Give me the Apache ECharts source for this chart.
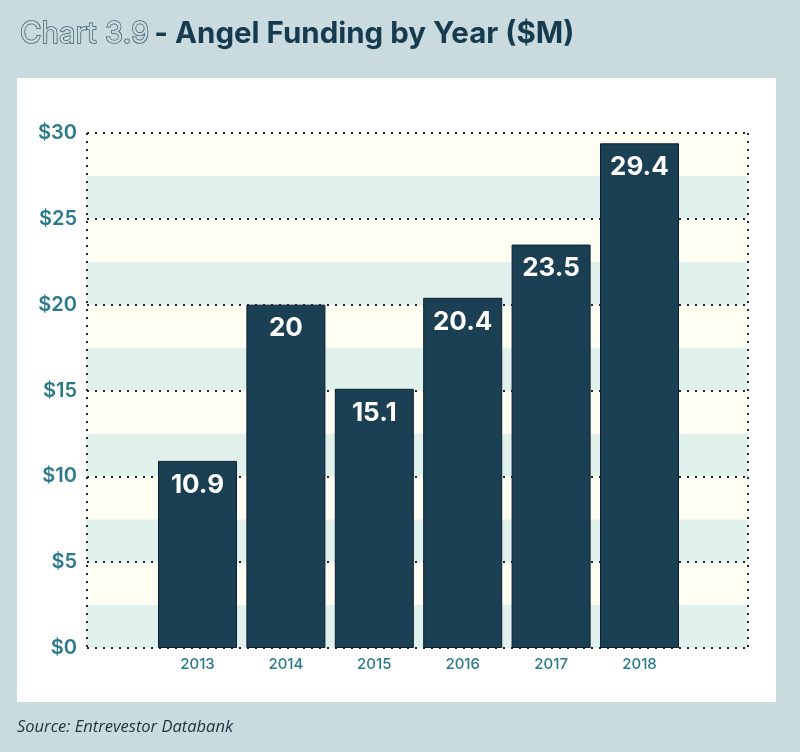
<!DOCTYPE html>
<html><head><meta charset="utf-8">
<script src="https://cdn.jsdelivr.net/npm/echarts@6/dist/echarts.min.js"></script>
<style>html,body{margin:0;padding:0;background:#c9dbdf;}#c{width:800px;height:752px;}</style>
</head><body><div id="c"></div>
<script>
var years = ['2013','2014','2015','2016','2017','2018'];
var funding = [10.9, 20, 15.1, 20.4, 23.5, 29.4];
var yTicks = [0, 5, 10, 15, 20, 25, 30];

var chart = echarts.init(document.getElementById('c'));
var teal = '#2b7a8c';
var dots = {color:'#1a2838', width:2, type:[2,6], cap:'butt'};
chart.setOption({
  backgroundColor:'#c9dbdf',
  animation:false,
  graphic:[
    {type:'rect', shape:{x:17,y:78,width:759,height:624}, style:{fill:'#ffffff'}, z:-10},
    {type:'text', left:17, top:729-10, style:{text:'Source: Entrevestor Databank', font:'italic 16.5px "Open Sans"', fill:'#1f3040'}}
  ],
  title:{
    left:15, top:14,
    text:'{a|Chart 3.9} {b|- Angel Funding by Year ($M)}',
    textStyle:{
      rich:{
        a:{fontFamily:'Inter', fontSize:29.5, fontWeight:'normal', color:'#c9dbdf', textBorderColor:'#3e5c6c', textBorderWidth:1.5},
        b:{fontFamily:'Inter', fontSize:29.5, fontWeight:'bold', color:'#163a4e', letterSpacing:-0.3}
      }
    }
  },
  grid:[
    {left:87, right:52, top:133, bottom:104},
    {left:153.3, right:116.3, top:133, bottom:104}
  ],
  xAxis:[
    {type:'value', gridIndex:0, min:0, max:1, interval:1, axisLine:{show:false}, axisTick:{show:false}, axisLabel:{show:false}, splitLine:{show:true, lineStyle:dots}},
    {type:'category', gridIndex:1, data:years, axisLine:{show:false}, axisTick:{show:false},
     axisLabel:{color:teal, fontFamily:'Inter', fontSize:15, fontWeight:500, margin:9}}
  ],
  yAxis:[
    {type:'value', gridIndex:0, position:'left', min:0, max:30, interval:2.5, axisLine:{show:false}, axisTick:{show:false}, axisLabel:{show:false}, splitLine:{show:false},
     splitArea:{show:true, areaStyle:{color:['#e0f1ec','#fefef3']}}},
    {type:'value', gridIndex:0, position:'left', offset:0, min:0, max:30, interval:5, axisLine:{show:false}, axisTick:{show:false},
     axisLabel:{color:teal, fontFamily:'Inter', fontSize:20, fontWeight:600, margin:10, formatter:function(v){return '$'+v;}},
     splitLine:{show:true, lineStyle:dots}},
    {type:'value', gridIndex:1, min:0, max:30, interval:5, show:false}
  ],
  series:[{
    type:'bar', xAxisIndex:1, yAxisIndex:2, data:funding,
    barCategoryGap:'10.6%',
    itemStyle:{color:'#1b3f53', borderColor:'#0e1f35', borderWidth:1},
    label:{show:true, position:'insideTop', distance:11, color:'#ffffff', fontFamily:'Inter', fontWeight:'bold', fontSize:26,
      textBorderColor:'#1b3f53', textBorderWidth:2},
    z:5
  }]
});
</script></body></html>
